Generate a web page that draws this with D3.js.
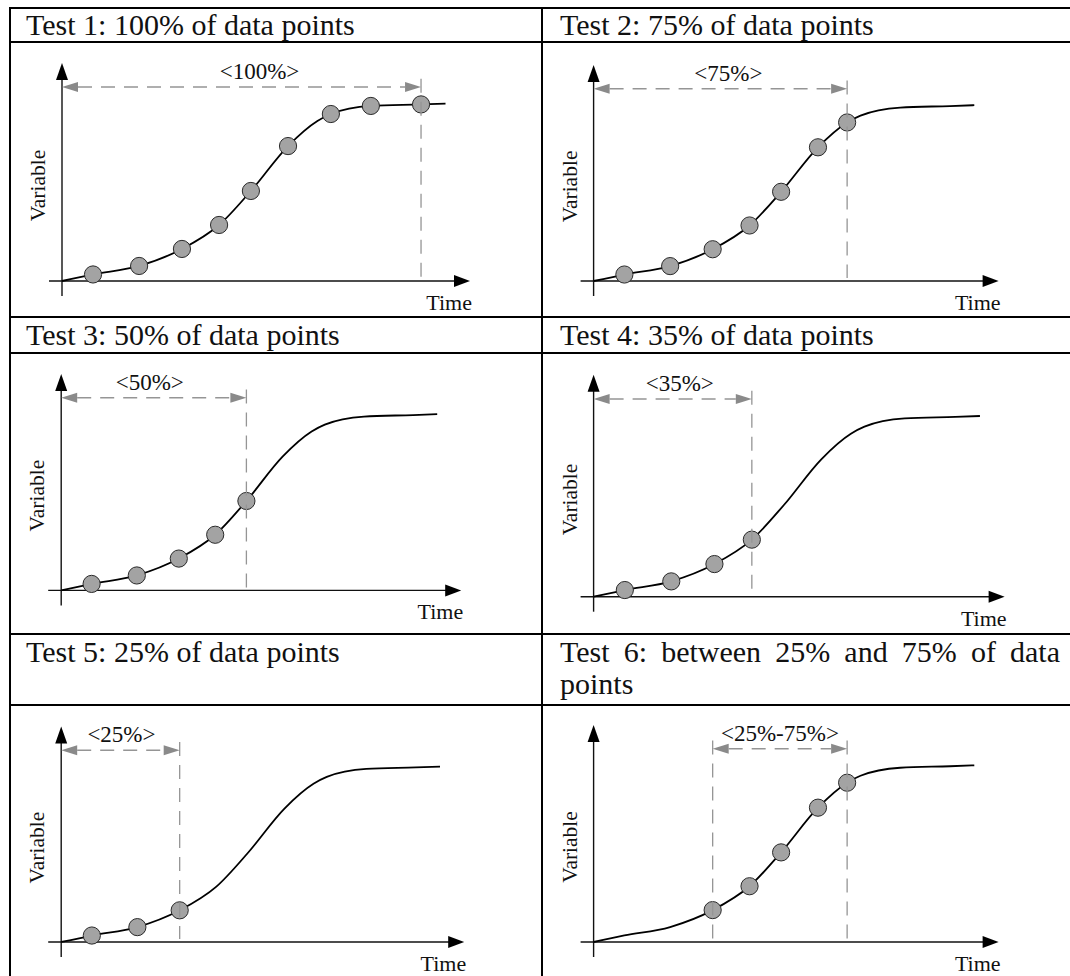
<!DOCTYPE html>
<html>
<head>
<meta charset="utf-8">
<script src="https://cdn.jsdelivr.net/npm/d3@7"></script>
<style>
  html, body { margin: 0; padding: 0; background: #fff; }
  svg { display: block; }
  text { font-family: "Liberation Serif", "Times New Roman", serif; fill: #111; }
</style>
</head>
<body>
<svg id="chart" width="1070" height="976"></svg>
<script>
// Sampled observations along the growth curve (time and variable as % of axis length)
const pointTime  = [7.6, 18.9, 29.4, 38.5, 46.3, 55.4, 62.6, 65.9, 75.7, 88.0];
const pointValue = [3.0, 6.9, 14.7, 25.7, 41.3, 61.9, 73.4, 76.6, 80.3, 81.0];

// The curve starts at the origin, runs through the samples and ends on the plateau
const curveStart = [0, 0];
const curveEnd   = [94.0, 81.4];

// One entry per test
const testTitles = [
  "Test 1: 100% of data points",
  "Test 2: 75% of data points",
  "Test 3: 50% of data points",
  "Test 4: 35% of data points",
  "Test 5: 25% of data points",
  "Test 6: between 25% and 75% of data points"
];
const testLabels = ["<100%>", "<75%>", "<50%>", "<35%>", "<25%>", "<25%-75%>"];
const testPoints = [
  [0, 1, 2, 3, 4, 5, 7, 8, 9],
  [0, 1, 2, 3, 4, 5, 6],
  [0, 1, 2, 3, 4],
  [0, 1, 2, 3],
  [0, 1, 2],
  [2, 3, 4, 5, 6]
];
const windowFrom = [0, 0, 0, 0, 0, 29.4];
const windowTo   = [88.0, 62.6, 46.3, 38.5, 29.4, 62.6];

// ---- layout ----
const W = 1070, H = 976;
const rowLines = [8, 42, 317, 353, 634, 705];
const colLines = [10, 542];
const titleX = [26, 560, 26, 560, 26, 560];
const titleY = [35, 35, 345, 345, 662, 662];
const titleWidth = 500;
const titleSize = 30, titleLead = 31.6;

const panelOrigin = [[62, 281], [593.6, 281], [61.2, 590.4], [593.6, 596.7], [61.2, 942], [593.6, 942]];
const panelLenX = [408, 405, 400, 411, 403, 405];
const panelLenY = [218, 216, 216.5, 222, 215.5, 217];
const labelShift = [18, 8, -4, 7, 1, 0];

const ARROW_V = 89;       // height of the window arrow (in % of the variable axis)
const LABEL_V = 92.6;     // baseline of the window label
const GUIDE_TOP_V = 92.8; // top of the vertical guide lines

const dashGrey = "#959595";
const headGrey = "#8a8a8a";

const svg = d3.select("#chart");

// ---- table grid ----
svg.append("g").selectAll("line")
  .data(rowLines)
  .join("line")
  .attr("x1", 9).attr("x2", W + 10)
  .attr("y1", d => d).attr("y2", d => d)
  .attr("stroke", "#000").attr("stroke-width", 2);

svg.append("g").selectAll("line")
  .data(colLines)
  .join("line")
  .attr("x1", d => d).attr("x2", d => d)
  .attr("y1", 7).attr("y2", H + 10)
  .attr("stroke", "#000").attr("stroke-width", 2);

// ---- titles (wrapped and justified like a table cell) ----
function drawTitle(text, x0, y0, width) {
  const probe = svg.append("text").attr("font-size", titleSize).attr("visibility", "hidden");
  const measure = s => { probe.text(s); return probe.node().getComputedTextLength(); };
  const words = text.split(" ");
  const spaceW = measure("a a") - measure("aa");
  const lines = [];
  let cur = [];
  let curW = 0;
  words.forEach(w => {
    const ww = measure(w);
    const add = cur.length ? spaceW + ww : ww;
    if (cur.length && curW + add > width) {
      lines.push(cur);
      cur = [{ w, ww }];
      curW = ww;
    } else {
      cur.push({ w, ww });
      curW += add;
    }
  });
  lines.push(cur);
  probe.remove();

  const t = svg.append("text").attr("font-size", titleSize);
  lines.forEach((line, li) => {
    const last = li === lines.length - 1;
    const total = d3.sum(line, d => d.ww);
    const gap = (!last && line.length > 1) ? (width - total) / (line.length - 1) : spaceW;
    let xx = x0;
    line.forEach(d => {
      t.append("tspan").attr("x", xx).attr("y", y0 + li * titleLead).text(d.w);
      xx += d.ww + gap;
    });
  });
}

testTitles.forEach((title, i) => drawTitle(title, titleX[i], titleY[i], titleWidth));

// ---- one growth-curve panel per test ----
const knots = [curveStart, ...pointTime.map((t, k) => [t, pointValue[k]]), curveEnd];

testTitles.forEach((title, i) => {
  const [ox, oy] = panelOrigin[i];
  const x = d3.scaleLinear().domain([0, 100]).range([ox, ox + panelLenX[i]]);
  const y = d3.scaleLinear().domain([0, 100]).range([oy, oy - panelLenY[i]]);
  const g = svg.append("g");

  // axes with arrow heads
  g.append("line")
    .attr("x1", x(0) - 13).attr("x2", x(100) - 14)
    .attr("y1", y(0)).attr("y2", y(0))
    .attr("stroke", "#111").attr("stroke-width", 1.4);
  g.append("path")
    .attr("d", `M${x(100)},${y(0)}L${x(100) - 16},${y(0) - 6}L${x(100) - 16},${y(0) + 6}Z`)
    .attr("fill", "#000");
  g.append("line")
    .attr("x1", x(0)).attr("x2", x(0))
    .attr("y1", y(0) + 15).attr("y2", y(100) + 14)
    .attr("stroke", "#111").attr("stroke-width", 1.4);
  g.append("path")
    .attr("d", `M${x(0)},${y(100)}L${x(0) - 6},${y(100) + 17}L${x(0) + 6},${y(100) + 17}Z`)
    .attr("fill", "#000");

  // axis titles
  g.append("text")
    .attr("x", x(100) + 2).attr("y", y(0) + 29)
    .attr("text-anchor", "end").attr("font-size", 22)
    .text("Time");
  g.append("text")
    .attr("transform", `translate(${x(0) - 17},${y(43.8)}) rotate(-90)`)
    .attr("text-anchor", "middle").attr("font-size", 21.5)
    .text("Variable");

  // growth curve
  const line = d3.line()
    .x(d => x(d[0]))
    .y(d => y(d[1]))
    .curve(d3.curveMonotoneX);
  g.append("path")
    .datum(knots)
    .attr("d", line)
    .attr("fill", "none")
    .attr("stroke", "#000")
    .attr("stroke-width", 1.8);

  // sampled observations used in this test
  g.selectAll("circle")
    .data(testPoints[i])
    .join("circle")
    .attr("cx", k => x(pointTime[k]))
    .attr("cy", k => y(pointValue[k]))
    .attr("r", 8.6)
    .attr("fill", "#a3a3a3")
    .attr("stroke", "#2a2a2a")
    .attr("stroke-width", 1);

  // window: vertical guides, double-headed dashed arrow, label
  const from = windowFrom[i], to = windowTo[i];
  const guides = from > 0 ? [from, to] : [to];
  g.selectAll("line.guide")
    .data(guides)
    .join("line")
    .attr("class", "guide")
    .attr("x1", d => x(d)).attr("x2", d => x(d))
    .attr("y1", y(GUIDE_TOP_V)).attr("y2", y(0) - 3)
    .attr("stroke", dashGrey).attr("stroke-width", 1.3)
    .attr("stroke-dasharray", "14,9");

  const ay = y(ARROW_V);
  const xa = x(from), xb = x(to);
  g.append("line")
    .attr("x1", xa + 16).attr("x2", xb - 16)
    .attr("y1", ay).attr("y2", ay)
    .attr("stroke", dashGrey).attr("stroke-width", 1.5)
    .attr("stroke-dasharray", "14,9");
  g.append("path")
    .attr("d", `M${xa},${ay}L${xa + 16},${ay - 5}L${xa + 16},${ay + 5}Z`)
    .attr("fill", headGrey);
  g.append("path")
    .attr("d", `M${xb},${ay}L${xb - 16},${ay - 5}L${xb - 16},${ay + 5}Z`)
    .attr("fill", headGrey);

  g.append("text")
    .attr("x", x((from + to) / 2) + labelShift[i])
    .attr("y", y(LABEL_V))
    .attr("text-anchor", "middle")
    .attr("font-size", 23)
    .text(testLabels[i]);
});
</script>
</body>
</html>
